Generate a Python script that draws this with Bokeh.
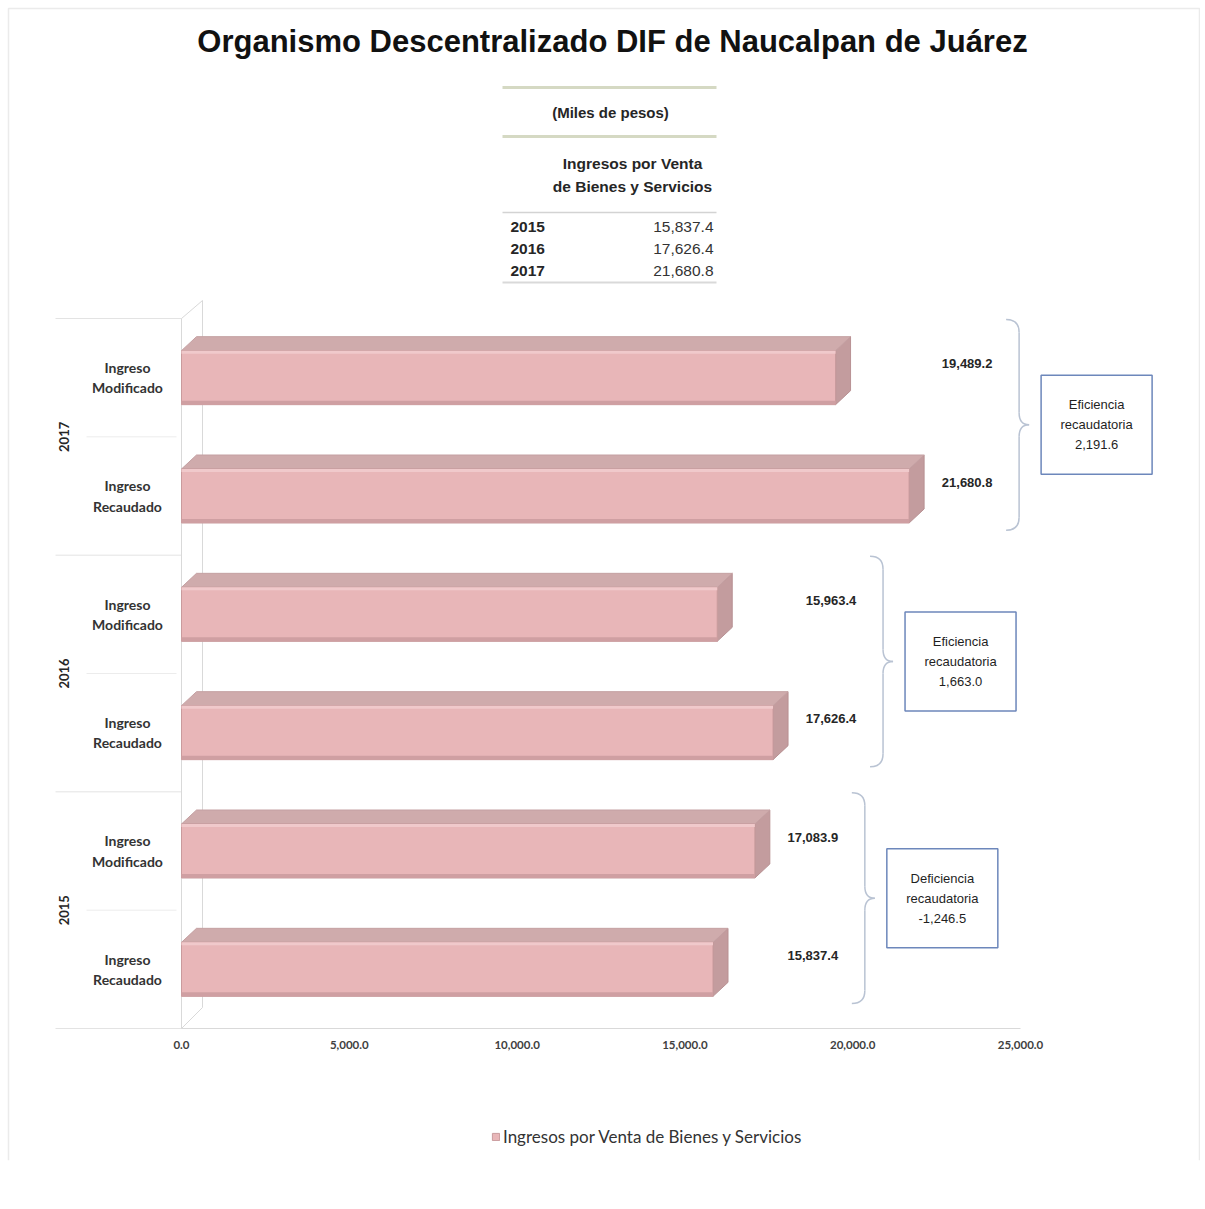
import math
from bokeh.plotting import figure
from bokeh.models import (ColumnDataSource, Range1d, FixedTicker,
                          NumeralTickFormatter, Legend, LegendItem)
from bokeh.embed import file_html
from bokeh.resources import INLINE
from bokeh.core.properties import value

# ---------------- data ----------------
title_text = "Organismo Descentralizado DIF de Naucalpan de Juárez"
table_unit = "(Miles de pesos)"
table_header = ["Ingresos por Venta", "de Bienes y Servicios"]
table_years = ["2015", "2016", "2017"]
table_values = [15837.4, 17626.4, 21680.8]

# bars, bottom to top
bar_years = ["2015", "2015", "2016", "2016", "2017", "2017"]
bar_concepts = ["Ingreso\nRecaudado", "Ingreso\nModificado",
                "Ingreso\nRecaudado", "Ingreso\nModificado",
                "Ingreso\nRecaudado", "Ingreso\nModificado"]
bar_values = [15837.4, 17083.9, 17626.4, 15963.4, 21680.8, 19489.2]

group_years = ["2015", "2016", "2017"]
eff_titles = ["Deficiencia\nrecaudatoria", "Eficiencia\nrecaudatoria", "Eficiencia\nrecaudatoria"]
eff_values = [-1246.5, 1663.0, 2191.6]

x_ticks = [0, 5000, 10000, 15000, 20000, 25000]
series_name = "Ingresos por Venta de Bienes y Servicios"

# ---------------- geometry ----------------
W = 1200
H = 1200
BOTTOM = 40
ORIGIN = 0            # page offset of the canvas
FRAME_BOTTOM_PX = ORIGIN + H - BOTTOM
X0_PX = 181          # page x of value 0
Y0_PX = 1028         # page y of category baseline
SX = 25000 / 839.0   # data units per px (x)
SY = 1 / 118.333     # data units per px (y)


def DX(px):
    return (px - X0_PX) * SX


def DY(py):
    return (Y0_PX - py) * SY


n = len(bar_values)
SANS = value("Liberation Sans")
LATO = value("Lato")

p = figure(width=W, height=H, x_range=Range1d(DX(ORIGIN), DX(ORIGIN + W)),
           y_range=Range1d(DY(FRAME_BOTTOM_PX), DY(ORIGIN)),
           output_backend="svg", toolbar_location=None, y_axis_location=None,
           min_border_left=0, min_border_right=0, min_border_top=0,
           min_border_bottom=BOTTOM)
p.outline_line_color = None
p.xgrid.visible = False
p.ygrid.visible = False

# faint outer card border
p.line(x=[DX(8), DX(8), DX(1199), DX(1199)],
       y=[DY(FRAME_BOTTOM_PX), DY(8), DY(8), DY(FRAME_BOTTOM_PX)],
       line_color="#ebebeb", line_width=1.5)

# x axis, drawn at the category baseline
xa = p.xaxis[0]
xa.fixed_location = 0
xa.ticker = FixedTicker(ticks=x_ticks)
xa.formatter = NumeralTickFormatter(format="0,0.0")
xa.bounds = (x_ticks[0], x_ticks[-1])
xa.axis_line_color = "#d9d9d9"
xa.major_tick_out = 0
xa.major_tick_in = 0
xa.minor_tick_out = 0
xa.minor_tick_in = 0
xa.major_label_standoff = 12
xa.major_label_text_font = "Lato"
xa.major_label_text_font_size = "11.5px"
xa.major_label_text_font_style = "bold"
xa.major_label_text_color = "#404040"

# ---------------- title + table ----------------
p.text(x=[DX(612)], y=[DY(41)], text=[title_text], text_align="center", text_baseline="middle",
       text_font=SANS, text_font_style="bold", text_font_size="31px", text_color="#111111")

tl = ColumnDataSource(dict(x0=[DX(502)] * 4, x1=[DX(716)] * 4,
                           y=[DY(87), DY(136), DY(212), DY(282)],
                           c=["#d5d9c3", "#d5d9c3", "#d3d3d3", "#d9d9d9"],
                           w=[3, 3, 1.5, 2]))
p.segment(x0="x0", x1="x1", y0="y", y1="y", line_color="c", line_width="w", source=tl)

p.text(x=[DX(610)], y=[DY(112)], text=[table_unit], text_align="center", text_baseline="middle",
       text_font=SANS, text_font_style="bold", text_font_size="15px", text_color="#262626")
p.text(x=[DX(632)] * len(table_header), y=[DY(163 + 23 * i) for i in range(len(table_header))],
       text=table_header, text_align="center", text_baseline="middle",
       text_font=SANS, text_font_style="bold", text_font_size="15.5px", text_color="#262626")
p.text(x=[DX(510)] * 3, y=[DY(226 + 22 * i) for i in range(3)], text=table_years,
       text_align="left", text_baseline="middle", text_font=SANS, text_font_style="bold",
       text_font_size="15.5px", text_color="#262626")
p.text(x=[DX(713)] * 3, y=[DY(226 + 22 * i) for i in range(3)],
       text=[f"{v:,.1f}" for v in table_values],
       text_align="right", text_baseline="middle", text_font=SANS,
       text_font_size="15.5px", text_color="#333333")

# ---------------- category area ----------------
centers = [i + 0.5 for i in range(n)]
n_cat = n
grp_b = list(range(0, n_cat + 1, 2))
sub_b = list(range(1, n_cat, 2))
p.segment(x0=[DX(55)] * len(grp_b), x1=[DX(181)] * len(grp_b), y0=grp_b, y1=grp_b,
          line_color="#e3e3e3", line_width=1)
p.segment(x0=[DX(86)] * len(sub_b), x1=[DX(176)] * len(sub_b), y0=sub_b, y1=sub_b,
          line_color="#ececec", line_width=1)

p.text(x=[DX(127)] * n, y=centers, text=bar_concepts, text_align="center",
       text_baseline="middle", text_line_height=1.2, text_font=LATO,
       text_font_style="bold", text_font_size="14px", text_color="#333333")
group_centers = [2 * k + 1 for k in range(len(group_years))]
p.text(x=[DX(63)] * len(group_years), y=group_centers, text=group_years, angle=math.pi / 2,
       text_align="center", text_baseline="middle", text_font=LATO,
       text_font_style="bold", text_font_size="13px", text_color="#262626")

# 3D wall
wdx = 21 * SX
wdy_top = 18 * SY
wdy_bot = 21 * SY
p.segment(x0=[0, 0, wdx, 0], y0=[0, n_cat, n_cat + wdy_top, 0],
          x1=[0, wdx, wdx, wdx], y1=[n_cat, n_cat + wdy_top, wdy_bot, wdy_bot],
          line_color="#d9d9d9", line_width=1)

# 3D bars
hh = 27 * SY
dx = 15 * SX
dy = 14 * SY
bot = [c - hh for c in centers]
top = [c + hh for c in centers]
faces = ColumnDataSource(dict(
    txs=[[0, v, v + dx, dx] for v in bar_values],
    tys=[[tp, tp, tp + dy, tp + dy] for tp in top],
    sxs=[[v, v + dx, v + dx, v] for v in bar_values],
    sys=[[b, b + dy, tp + dy, tp] for b, tp in zip(bot, top)],
))
p.patches(xs="sxs", ys="sys", source=faces, fill_color="#c39c9e", line_color="#b89193", line_width=1)
p.patches(xs="txs", ys="tys", source=faces, fill_color="#cfabac", line_color="#c4a0a2", line_width=1)

bars = ColumnDataSource(dict(left=[0] * n, right=bar_values, bottom=bot, top=top,
                             strip=[b + 4 * SY for b in bot],
                             hl=[tp - 3 * SY for tp in top]))
front = p.quad(left="left", right="right", bottom="bottom", top="top", source=bars,
               fill_color="#e8b6b8", line_color="#c99b9d", line_width=1)
p.quad(left="left", right="right", bottom="bottom", top="strip", source=bars,
       fill_color="#cf9fa2", line_color=None)
p.quad(left="left", right="right", bottom="hl", top="top", source=bars,
       fill_color="#f0c9cb", line_color=None)

# value labels
gmax = [max(bar_values[2 * k], bar_values[2 * k + 1]) for k in range(len(group_years))]
lab_x = [gmax[i // 2] + 58 * SX for i in range(n)]
p.text(x=lab_x, y=centers, text=[f"{v:,.1f}" for v in bar_values], y_offset=-14,
       text_align="center", text_baseline="middle", text_font=SANS,
       text_font_style="bold", text_font_size="13px", text_color="#262626")

# braces
q = dict(x0=[], y0=[], x1=[], y1=[], cx=[], cy=[])
sg = dict(x0=[], y0=[], x1=[], y1=[])
bx_list, my_list = [], []
for k in range(len(group_years)):
    bx = gmax[k] + 110 * SX
    ty = 2 * k + 2 - 1 * SY
    by = 2 * k + 25 * SY
    my = (ty + by) / 2
    bx_list.append(bx)
    my_list.append(my)
    r = 13 * SX
    rv = 13 * SY
    tip = 10 * SX
    hv = 12 * SY
    curves = [
        (bx - r, ty, bx, ty - rv, bx, ty),
        (bx, my + hv, bx + tip, my, bx, my),
        (bx + tip, my, bx, my - hv, bx, my),
        (bx, by + rv, bx - r, by, bx, by),
    ]
    for c in curves:
        for key, val in zip(["x0", "y0", "x1", "y1", "cx", "cy"], c):
            q[key].append(val)
    for s in [(bx, ty - rv, bx, my + hv), (bx, my - hv, bx, by + rv)]:
        for key, val in zip(["x0", "y0", "x1", "y1"], s):
            sg[key].append(val)
p.quadratic(x0="x0", y0="y0", x1="x1", y1="y1", cx="cx", cy="cy",
            source=ColumnDataSource(q), line_color="#b9c3d3", line_width=1.5)
p.segment(x0="x0", y0="y0", x1="x1", y1="y1", source=ColumnDataSource(sg),
          line_color="#b9c3d3", line_width=1.5)

# efficiency boxes
box_x = [bx + 77.5 * SX for bx in bx_list]
p.rect(x=box_x, y=my_list, width=111, height=99, width_units="screen", height_units="screen",
       fill_color="white", line_color="#6d87bb", line_width=1.5)
p.text(x=box_x, y=my_list,
       text=[f"{tt}\n{v:,.1f}" for tt, v in zip(eff_titles, eff_values)],
       text_align="center", text_baseline="middle", text_line_height=1.33,
       text_font=SANS, text_font_size="13px", text_color="#1f1f1f")

# legend (inside the frame, under the axis)
legend = Legend(items=[LegendItem(label=series_name, renderers=[front])],
                location=(491 - ORIGIN, FRAME_BOTTOM_PX - 1147), orientation="horizontal",
                glyph_width=9, glyph_height=9, label_text_font="Lato",
                label_text_font_size="17px", label_text_color="#333333",
                border_line_color=None, background_fill_alpha=0,
                padding=0, margin=0, label_standoff=3)
p.add_layout(legend)

open("out.html", "w").write(file_html(p, INLINE))
